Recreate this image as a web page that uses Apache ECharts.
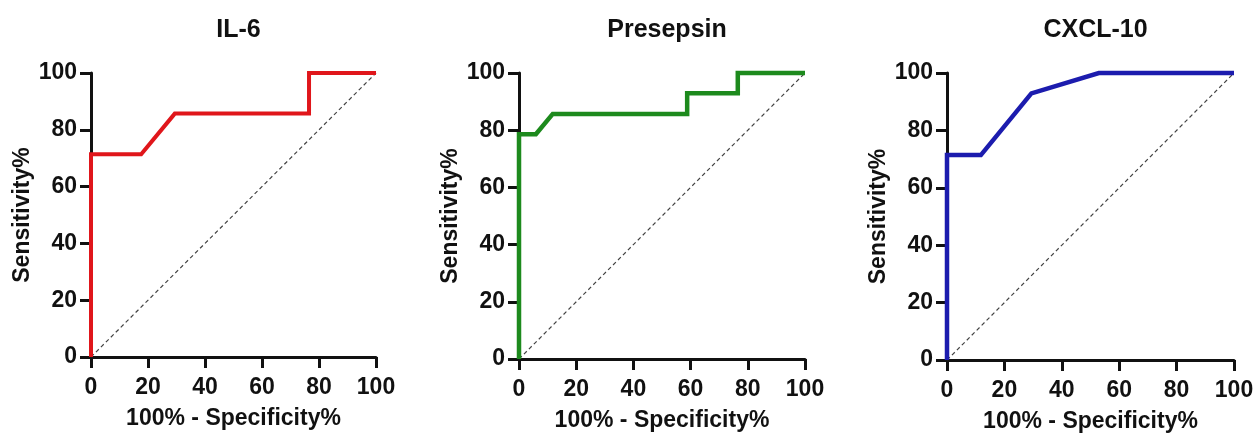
<!DOCTYPE html>
<html>
<head>
<meta charset="utf-8">
<script src="https://cdn.jsdelivr.net/npm/echarts@6/dist/echarts.min.js"></script>
<style>
html,body{margin:0;padding:0;background:#fff;}
#c{width:1253px;height:434px;}
</style>
</head>
<body>
<div id="c"></div>
<script>
// Data (100% - Specificity%, Sensitivity%)
const titles = ["IL-6", "Presepsin", "CXCL-10"];
const il6X = [0, 0, 17.6, 29.4, 76.5, 76.5, 100];
const il6Y = [0, 71.4, 71.4, 85.7, 85.7, 100, 100];
const presepsinX = [0, 0, 5.9, 11.8, 58.8, 58.8, 76.5, 76.5, 100];
const presepsinY = [0, 78.6, 78.6, 85.7, 85.7, 92.9, 92.9, 100, 100];
const cxcl10X = [0, 0, 11.8, 29.4, 52.9, 100];
const cxcl10Y = [0, 71.4, 71.4, 92.9, 100, 100];
const refX = [0, 100];
const refY = [0, 100];
const tickVals = [0, 20, 40, 60, 80, 100];
const xName = "100% - Specificity%";
const yName = "Sensitivity%";

const seriesX = [il6X, presepsinX, cxcl10X];
const seriesY = [il6Y, presepsinY, cxcl10Y];
const colors = ["#e0161b", "#1d8a1d", "#1c1cae"];
const widths = [4, 4.5, 4.5];
const grids = [
  {left: 91, top: 73, width: 285, height: 284, outerBoundsMode: "none", containLabel: false},
  {left: 519, top: 73, width: 286, height: 286, outerBoundsMode: "none", containLabel: false},
  {left: 947, top: 73, width: 287, height: 287, outerBoundsMode: "none", containLabel: false}
];
const font = "Liberation Sans, Arial, sans-serif";
const zip = (xs, ys) => xs.map((x, i) => [x, ys[i]]);

const option = {
  animation: false,
  backgroundColor: "#fff",
  title: grids.map((g, i) => ({
    text: titles[i],
    left: g.left + g.width / 2,
    top: 13,
    textAlign: "center",
    textStyle: {fontFamily: font, fontWeight: "bold", fontSize: 25, color: "#111"}
  })),
  grid: grids,
  xAxis: grids.map((g, i) => ({
    gridIndex: i, type: "value", min: 0, max: 100, interval: 20,
    name: xName, nameLocation: "middle", nameGap: 50,
    nameTextStyle: {fontFamily: font, fontWeight: "bold", fontSize: 23, color: "#111"},
    axisLine: {show: true, onZero: false, lineStyle: {color: "#111", width: 3}},
    axisTick: {show: true, length: 11, lineStyle: {color: "#111", width: 3}},
    axisLabel: {margin: 19, fontFamily: font, fontWeight: "bold", fontSize: 23, color: "#111",
      formatter: v => tickVals.includes(v) ? String(v) : ""},
    splitLine: {show: false}
  })),
  yAxis: grids.map((g, i) => ({
    gridIndex: i, type: "value", min: 0, max: 100, interval: 20,
    name: yName, nameLocation: "middle", nameGap: 57, nameRotate: 90,
    nameTextStyle: {fontFamily: font, fontWeight: "bold", fontSize: 23, color: "#111"},
    axisLine: {show: true, onZero: false, lineStyle: {color: "#111", width: 3}},
    axisTick: {show: true, length: 11, lineStyle: {color: "#111", width: 3}},
    axisLabel: {margin: 14, fontFamily: font, fontWeight: "bold", fontSize: 23, color: "#111",
      formatter: v => tickVals.includes(v) ? String(v) : ""},
    splitLine: {show: false}
  })),
  series: [].concat(
    grids.map((g, i) => ({
      type: "line", xAxisIndex: i, yAxisIndex: i, data: zip(refX, refY),
      symbol: "none", silent: true, z: 1,
      lineStyle: {color: "#444", width: 1.2, type: [4, 3]}
    })),
    grids.map((g, i) => ({
      type: "line", xAxisIndex: i, yAxisIndex: i, data: zip(seriesX[i], seriesY[i]),
      symbol: "none", z: 3, clip: false,
      lineStyle: {color: colors[i], width: widths[i], join: "miter"}
    }))
  )
};
const chart = echarts.init(document.getElementById("c"), null, {renderer: "canvas"});
chart.setOption(option);
</script>
</body>
</html>
